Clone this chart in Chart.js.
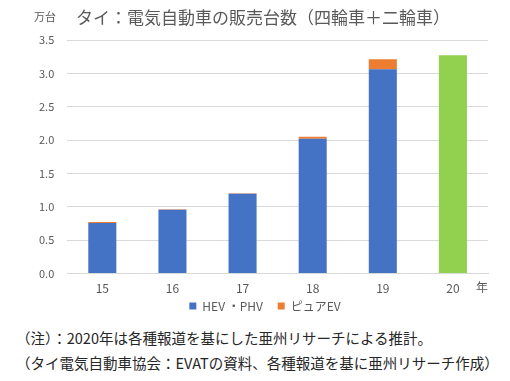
<!DOCTYPE html>
<html>
<head>
<meta charset="utf-8">
<script src="https://cdn.jsdelivr.net/npm/chart.js@4"></script>
<style>
body { margin: 0; background: #fff; }
#wrap { position: relative; width: 510px; height: 381px; }
#chart { position: absolute; left: 0; top: 0; }
#notes { position: absolute; left: 16px; top: 325px; font-family: "Noto Sans CJK JP", sans-serif; font-size: 14.5px; line-height: 25px; color: #262626; white-space: nowrap; }
</style>
</head>
<body>
<div id="wrap">
  <canvas id="chart" width="510" height="322"></canvas>
  <div id="notes">（注）：2020年は各種報道を基にした亜州リサーチによる推計。<br>（タイ電気自動車協会：EVATの資料、各種報道を基に亜州リサーチ作成）</div>
</div>
<script>
const years = ["15", "16", "17", "18", "19", "20"];
const hevPhv = [0.76, 0.955, 1.195, 2.02, 3.06, null];
const pureEv = [0.012, 0.01, 0.01, 0.03, 0.15, null];
const estimate2020 = [null, null, null, null, null, 3.27];
const yTicks = [0, 0.5, 1, 1.5, 2, 2.5, 3, 3.5];

const JP = '"Noto Sans CJK JP", sans-serif';
const GREY = "#595959";

// title, unit and year labels drawn around the chart area
const labelsPlugin = {
    id: "labelsPlugin",
    afterLayout(chart) {
        // legend sits a little right of centre in the original
        chart.legend.left += 8;
        chart.legend.right += 8;
    },
    afterDraw(chart) {
        const ctx = chart.ctx;
        const area = chart.chartArea;
        ctx.save();
        ctx.fillStyle = GREY;
        ctx.textBaseline = "middle";
        ctx.font = "17px " + JP;
        ctx.textAlign = "left";
        ctx.fillText("タイ：電気自動車の販売台数（四輪車＋二輪車）", 76, 18);
        ctx.font = "11px " + JP;
        ctx.fillText("万台", 34, 17);
        ctx.font = "12px " + JP;
        ctx.fillText("年", area.right - 12, area.bottom + 14);
        ctx.restore();
    }
};

new Chart(document.getElementById("chart"), {
    type: "bar",
    data: {
        labels: years,
        datasets: [
            { label: "HEV ・PHV", data: hevPhv, backgroundColor: "#4472C4" },
            { label: "ピュアEV", data: pureEv, backgroundColor: "#ED7D31" },
            { label: "2020", data: estimate2020, backgroundColor: "#92D050" }
        ]
    },
    options: {
        responsive: false,
        animation: false,
        barPercentage: 0.4,
        categoryPercentage: 1.0,
        layout: { padding: { top: 40, left: 26, right: 22, bottom: 0 } },
        scales: {
            x: {
                stacked: true,
                grid: { display: false },
                border: { color: "#d9d9d9" },
                ticks: { color: GREY, font: { size: 12, family: JP }, padding: 0 }
            },
            y: {
                stacked: true,
                min: 0,
                max: 3.5,
                afterBuildTicks(axis) { axis.ticks = yTicks.map(v => ({ value: v })); },
                grid: { color: "#d9d9d9", drawTicks: false },
                border: { display: false },
                ticks: {
                    color: GREY,
                    font: { size: 11, family: JP },
                    padding: 13,
                    callback: v => v.toFixed(1)
                }
            }
        },
        plugins: {
            legend: {
                position: "bottom",
                labels: {
                    boxWidth: 7,
                    boxHeight: 7,
                    color: GREY,
                    font: { size: 12, family: JP },
                    padding: 4,
                    filter: item => item.datasetIndex < 2,
                    generateLabels(chart) {
                        const items = Chart.defaults.plugins.legend.labels.generateLabels(chart);
                        items[0].text = items[0].text + "    ";
                        return items;
                    }
                }
            },
            tooltip: { enabled: false }
        }
    },
    plugins: [labelsPlugin]
});
</script>
</body>
</html>
